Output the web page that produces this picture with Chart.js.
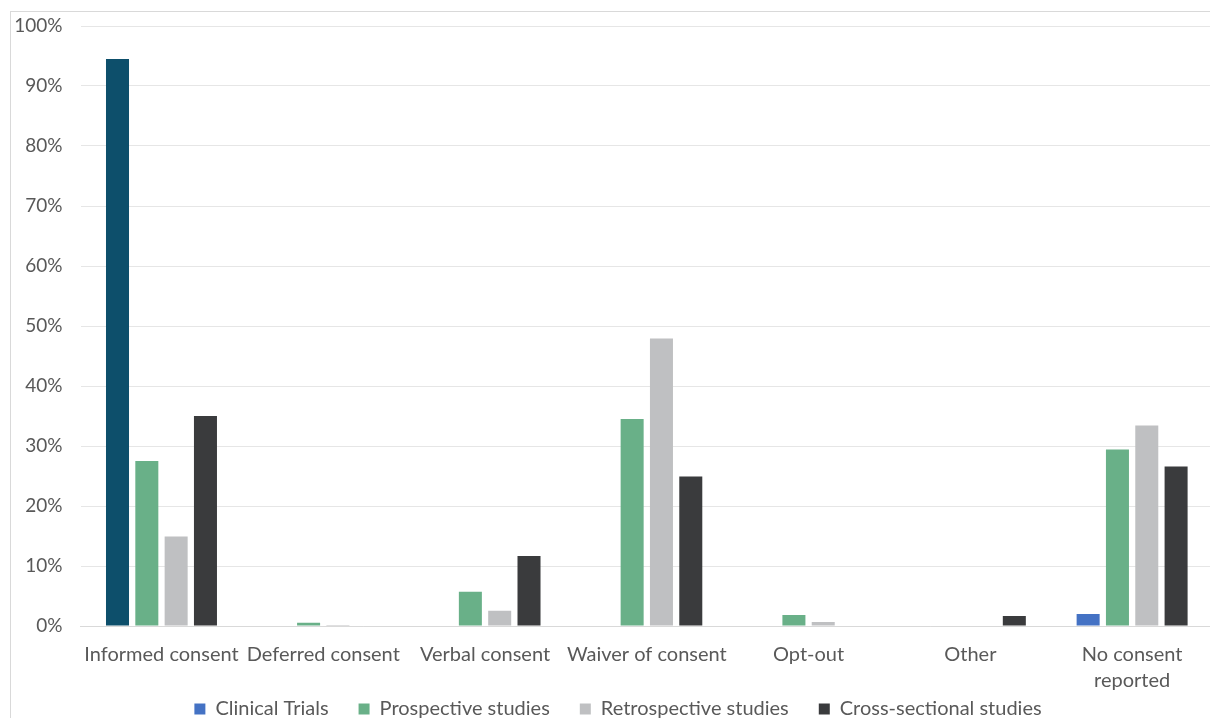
<!DOCTYPE html>
<html>
<head>
<meta charset="utf-8">
<script src="https://cdn.jsdelivr.net/npm/chart.js@4"></script>
<style>
  html, body { margin: 0; padding: 0; background: #ffffff; overflow: hidden; width: 1210px; height: 718px; }
  #frame { position: absolute; left: 10px; top: 11px; width: 1214px; height: 717px; border-left: 1px solid #d9d9d9; border-top: 1px solid #d9d9d9; }
  #c { display: block; }
</style>
</head>
<body>
<div id="frame"><canvas id="c" width="1214" height="717"></canvas></div>
<script>
const categories = ['Informed consent', 'Deferred consent', 'Verbal consent', 'Waiver of consent', 'Opt-out', 'Other', ['No consent', 'reported']];
const seriesNames = ['Clinical Trials', 'Prospective studies', 'Retrospective studies', 'Cross-sectional studies'];
const clinicalTrials = [94.5, 0, 0, 0, 0, 0, 2.0];
const prospectiveStudies = [27.5, 0.56, 5.7, 34.5, 1.83, 0, 29.4];
const retrospectiveStudies = [14.9, 0.17, 2.56, 47.9, 0.67, 0, 33.4];
const crossSectionalStudies = [35.0, 0, 11.67, 24.9, 0, 1.67, 26.6];
const yTicks = [0, 10, 20, 30, 40, 50, 60, 70, 80, 90, 100];

const FONT = 'Lato, "Noto Sans", sans-serif';
const TXT = '#595959';
const CT_BLUE = '#4472c4';
const CT_HIGHLIGHT = '#0d4f6b';

new Chart(document.getElementById('c'), {
  type: 'bar',
  data: {
    labels: categories,
    datasets: [
      { label: seriesNames[0], data: clinicalTrials,
        backgroundColor: (ctx) => (ctx.type === 'data' && ctx.dataIndex === 0) ? CT_HIGHLIGHT : CT_BLUE },
      { label: seriesNames[1], data: prospectiveStudies, backgroundColor: '#69b088' },
      { label: seriesNames[2], data: retrospectiveStudies, backgroundColor: '#bfc0c2' },
      { label: seriesNames[3], data: crossSectionalStudies, backgroundColor: '#3a3b3d' }
    ]
  },
  options: {
    responsive: false,
    animation: false,
    devicePixelRatio: 1,
    categoryPercentage: 0.725,
    barPercentage: 0.785,
    layout: { padding: { top: 14, right: 12, left: 12, bottom: 0 } },
    plugins: {
      tooltip: { enabled: false },
      legend: {
        position: 'bottom',
        labels: {
          color: TXT,
          font: { family: FONT, size: 20 },
          boxWidth: 11,
          boxHeight: 11,
          padding: 30,
          generateLabels: (chart) => {
            const items = Chart.defaults.plugins.legend.labels.generateLabels(chart);
            items[0].fillStyle = CT_BLUE;
            items[0].strokeStyle = CT_BLUE;
            return items;
          }
        }
      }
    },
    scales: {
      x: {
        grid: { display: false, drawTicks: false },
        border: { display: true, color: '#d9d9d9', width: 1 },
        ticks: { color: TXT, font: { family: FONT, size: 20, lineHeight: 1.3 }, padding: 16, maxRotation: 0, autoSkip: false },
        afterFit: (s) => { s.height = 43; s._computeLabelArea = () => undefined; }
      },
      y: {
        min: 0, max: 100,
        afterBuildTicks: (s) => { s.ticks = yTicks.map(v => ({ value: v })); },
        grid: { color: '#e6e6e6', drawTicks: true, tickLength: 16, tickColor: 'rgba(0,0,0,0)' },
        border: { display: false },
        ticks: { color: TXT, font: { family: FONT, size: 19 }, padding: 2, callback: (v) => v + '%' },
        afterFit: (s) => { s.width = 57.6; s._computeLabelArea = () => undefined; }
      }
    }
  }
});
</script>
</body>
</html>
